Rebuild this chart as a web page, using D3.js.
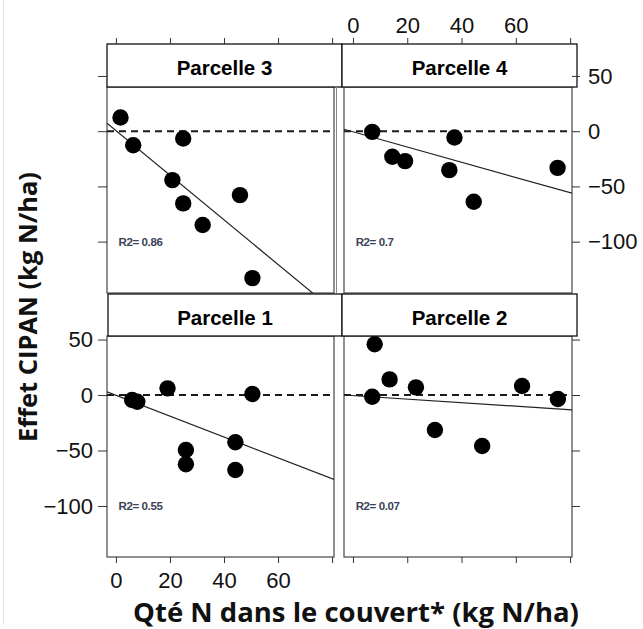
<!DOCTYPE html>
<html>
<head>
<meta charset="utf-8">
<script src="https://cdn.jsdelivr.net/npm/d3@7"></script>
<style>
  html, body { margin: 0; padding: 0; background: #fff; }
  svg { display: block; }
</style>
</head>
<body>
<svg id="chart" width="643" height="629"></svg>
<script>
// ---- data: N in cover crop (kg N/ha) vs CIPAN effect (kg N/ha), per plot ----
const panelNames = ["Parcelle 3", "Parcelle 4", "Parcelle 1", "Parcelle 2"];

const p3N      = [1.7, 6.4, 24.9, 20.9, 24.9, 45.9, 32.1, 50.5];
const p3Effect = [12.4, -12.7, -6.6, -44.3, -65.4, -57.9, -85, -133];

const p4N      = [7.1, 14.5, 19.2, 37.4, 35.5, 44.5, 75.4];
const p4Effect = [-0.6, -23.2, -27.1, -5.7, -35.3, -63.9, -33.2];

const p1N      = [6.0, 7.9, 19.1, 50.5, 25.9, 25.9, 44.2, 44.2];
const p1Effect = [-4.5, -6, 6, 0.9, -49.5, -62.4, -42.6, -67.6];

const p2N      = [8.0, 13.5, 7.1, 23.2, 30.2, 47.6, 62.3, 75.5];
const p2Effect = [45.7, 14.1, -1.5, 6.9, -31.5, -45.9, 8.1, -3.6];

// linear fits (intercept, slope) and their R²
const fitIntercepts = [0.5, -0.5, -0.2, -0.5];
const fitSlopes     = [-2.02, -0.69, -0.94, -0.16];
const r2Values      = ["0.86", "0.7", "0.55", "0.07"];

// axis ticks
const xTicks = [0, 20, 40, 60, 80];
const xTickLabels = ["0", "20", "40", "60", ""];
const yTicks = [50, 0, -50, -100];
const yTickLabels = ["50", "0", "\u221250", "\u2212100"];

const xDomain = [-3.3, 80.7];

// ---- layout ----
const svg = d3.select("#chart");
const tickFont = "'Liberation Sans', Arial, sans-serif";

const panels = [
  { name: panelNames[0], xs: p3N, ys: p3Effect, fit: 0,
    x0: 107, x1: 334, y0: 87, y1: 293, sy0: 44, sx0: 107, sx1: 342,
    yDom: [-146.5, 40], top: "ticks", left: "ticks" },
  { name: panelNames[1], xs: p4N, ys: p4Effect, fit: 1,
    x0: 344, x1: 572, y0: 87, y1: 293, sy0: 44, sx0: 342, sx1: 577,
    yDom: [-146.5, 40], top: "labels", right: "labels" },
  { name: panelNames[2], xs: p1N, ys: p1Effect, fit: 2,
    x0: 107, x1: 334, y0: 336, y1: 557, sy0: 294, sx0: 108, sx1: 342,
    yDom: [-146, 53.2], bottom: "labels", left: "labels" },
  { name: panelNames[3], xs: p2N, ys: p2Effect, fit: 3,
    x0: 344, x1: 572, y0: 336, y1: 557, sy0: 294, sx0: 342, sx1: 577,
    yDom: [-146, 53.2], bottom: "ticks", right: "ticks" }
];

// faint edge line on the left
svg.append("line").attr("x1", 3.5).attr("x2", 3.5).attr("y1", 0).attr("y2", 624)
  .attr("stroke", "#e2e2e2").attr("stroke-width", 1);

function styleAxis(g, withLabels, fs) {
  g.select(".domain").remove();
  g.selectAll(".tick line").attr("stroke", "#333").attr("stroke-width", 1);
  g.selectAll(".tick text")
    .attr("font-family", tickFont)
    .attr("font-size", fs)
    .attr("fill", "#111");
  if (!withLabels) g.selectAll(".tick text").remove();
}

panels.forEach((p, i) => {
  const x = d3.scaleLinear().domain(xDomain).range([p.x0, p.x1]);
  const y = d3.scaleLinear().domain(p.yDom).range([p.y1, p.y0]);
  const g = svg.append("g");

  const clipId = "clip" + i;
  svg.append("clipPath").attr("id", clipId)
    .append("rect").attr("x", p.x0).attr("y", p.y0)
    .attr("width", p.x1 - p.x0).attr("height", p.y1 - p.y0);

  // panel body
  g.append("rect")
    .attr("x", p.x0).attr("y", p.y0)
    .attr("width", p.x1 - p.x0).attr("height", p.y1 - p.y0)
    .attr("fill", "#fff").attr("stroke", "#555").attr("stroke-width", 1.3);

  const body = g.append("g").attr("clip-path", `url(#${clipId})`);

  // zero reference
  body.append("line")
    .attr("x1", p.x0).attr("x2", p.x1)
    .attr("y1", y(0)).attr("y2", y(0))
    .attr("stroke", "#1a1a1a").attr("stroke-width", 2)
    .attr("stroke-dasharray", "7,5");

  // fitted line
  const a = fitIntercepts[p.fit], b = fitSlopes[p.fit];
  body.append("line")
    .attr("x1", x(xDomain[0])).attr("y1", y(a + b * xDomain[0]))
    .attr("x2", x(xDomain[1])).attr("y2", y(a + b * xDomain[1]))
    .attr("stroke", "#222").attr("stroke-width", 1.2);

  // points
  body.selectAll("circle").data(p.xs.map((v, k) => [v, p.ys[k]]))
    .join("circle")
    .attr("cx", d => x(d[0])).attr("cy", d => y(d[1]))
    .attr("r", 8.2).attr("fill", "#000");

  // R² label
  g.append("text")
    .attr("x", x(1)).attr("y", y(-100) + 4)
    .attr("font-family", tickFont).attr("font-size", 11.5)
    .attr("font-weight", "bold").attr("letter-spacing", -0.4)
    .attr("fill", "#3a4256")
    .text("R2= " + r2Values[p.fit]);

  // strip
  g.append("rect")
    .attr("x", p.sx0).attr("y", p.sy0)
    .attr("width", p.sx1 - p.sx0).attr("height", (p.y0 === 87 ? 87 : 336) - p.sy0)
    .attr("fill", "#fff").attr("stroke", "#111").attr("stroke-width", 1.3);
  g.append("text")
    .attr("x", (p.sx0 + p.sx1) / 2).attr("y", p.sy0 + 31)
    .attr("text-anchor", "middle")
    .attr("font-family", tickFont).attr("font-size", 20.5).attr("font-weight", "bold")
    .attr("fill", "#000")
    .text(p.name);

  // axes
  if (p.top) {
    const ax = g.append("g").attr("transform", `translate(0,${p.sy0})`)
      .call(d3.axisTop(x).tickValues(xTicks).tickFormat((d, k) => xTickLabels[k])
        .tickSize(6).tickPadding(5));
    styleAxis(ax, p.top === "labels", 22);
  }
  if (p.bottom) {
    const ax = g.append("g").attr("transform", `translate(0,${p.y1})`)
      .call(d3.axisBottom(x).tickValues(xTicks).tickFormat((d, k) => xTickLabels[k])
        .tickSize(6).tickPadding(9));
    styleAxis(ax, p.bottom === "labels", 22);
  }
  if (p.left) {
    const ax = g.append("g").attr("transform", `translate(${p.x0},0)`)
      .call(d3.axisLeft(y).tickValues(yTicks).tickFormat((d, k) => yTickLabels[k])
        .tickSize(9).tickPadding(5));
    styleAxis(ax, p.left === "labels", 22);
  }
  if (p.right) {
    const ax = g.append("g").attr("transform", `translate(${p.x1},0)`)
      .call(d3.axisRight(y).tickValues(yTicks).tickFormat((d, k) => yTickLabels[k])
        .tickSize(8).tickPadding(8));
    styleAxis(ax, p.right === "labels", 22);
  }
});

// extra inner border between the upper panels
svg.append("line").attr("x1", 336.5).attr("x2", 336.5).attr("y1", 87).attr("y2", 293)
  .attr("stroke", "#888").attr("stroke-width", 1);

// axis titles
svg.append("text")
  .attr("x", 356).attr("y", 621.5)
  .attr("text-anchor", "middle")
  .attr("font-family", "'Open Sans', sans-serif").attr("font-weight", "bold")
  .attr("font-size", 27.5).attr("fill", "#111")
  .text("Qté N dans le couvert* (kg N/ha)");

svg.append("text")
  .attr("transform", "translate(37,307) rotate(-90)")
  .attr("text-anchor", "middle")
  .attr("font-family", "'Open Sans', sans-serif").attr("font-weight", "bold")
  .attr("font-size", 25.5).attr("fill", "#111")
  .text("Effet CIPAN (kg N/ha)");
</script>
</body>
</html>
